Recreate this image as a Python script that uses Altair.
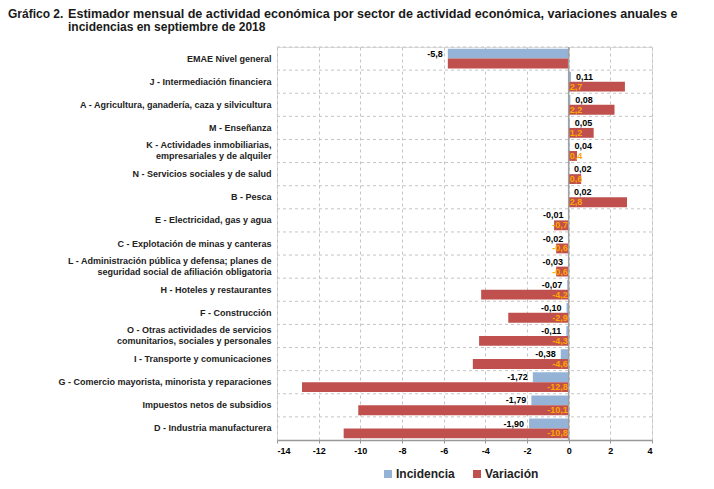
import altair as alt
import pandas as pd

cats = [
    "EMAE Nivel general",
    "J - Intermediación financiera",
    "A -  Agricultura, ganadería, caza y silvicultura",
    "M - Enseñanza",
    "K - Actividades inmobiliarias,|empresariales y de alquiler",
    "N - Servicios sociales y de salud",
    "B - Pesca",
    "E - Electricidad, gas y agua",
    "C - Explotación de minas y canteras",
    "L - Administración pública y defensa; planes de|seguridad social de afiliación obligatoria",
    "H - Hoteles y restaurantes",
    "F - Construcción",
    "O - Otras actividades de servicios|comunitarios, sociales y personales",
    "I - Transporte y comunicaciones",
    "G - Comercio mayorista, minorista y reparaciones",
    "Impuestos netos de subsidios",
    "D - Industria manufacturera",
]
incidencia = [-5.8, 0.11, 0.08, 0.05, 0.04, 0.02, 0.02, -0.01, -0.02, -0.03,
              -0.07, -0.10, -0.11, -0.38, -1.72, -1.79, -1.90]
variacion = [-5.8, 2.7, 2.2, 1.2, 0.4, 0.6, 2.8, -0.7, -0.6, -0.6,
             -4.2, -2.9, -4.3, -4.6, -12.8, -10.1, -10.8]
series = ["Incidencia", "Variación"]
x_ticks = list(range(-14, 5, 2))
title_head = ["Gráfico 2."]
title_line1 = ["Estimador mensual de actividad económica por sector de actividad económica, variaciones anuales e"]
title_line2 = ["incidencias en septiembre de 2018"]

rows = []
for i, c in enumerate(cats):
    inc = incidencia[i]
    inc_lab = (f"{inc:.1f}" if i == 0 else f"{inc:.2f}").replace(".", ",")
    rows.append({"cat": c, "serie": "Incidencia", "value": inc, "label": inc_lab})
    var = variacion[i]
    var_lab = "" if i == 0 else f"{var:.1f}".replace(".", ",")
    rows.append({"cat": c, "serie": "Variación", "value": var, "label": var_lab})
df = pd.DataFrame(rows)

FONT = "Liberation Sans"
blue = "#95B3D7"
red = "#C0504D"
orange = "#FFA500"
W, H = 375, 393

Y = alt.Y("cat:N", sort=cats, title=None,
          scale=alt.Scale(paddingInner=0, paddingOuter=0),
          axis=alt.Axis(labelExpr="split(datum.label, '|')", ticks=False, domain=False,
                        grid=False,
                        labelOffset={"condition": {"test": "indexof(datum.label, '|') >= 0",
                                                   "value": -6}, "value": 0},
                        labelFontWeight="bold", labelFontSize=9,
                        labelColor="#222", labelPadding=6, labelLimit=500,
                        labelLineHeight=11, labelFont=FONT, labelBaseline="middle"))
YO = alt.YOffset("serie:N", sort=series,
                 scale=alt.Scale(paddingOuter=0.17, paddingInner=0))
X = alt.X("value:Q", title=None,
          scale=alt.Scale(domain=[-14, 4], nice=False, zero=False),
          axis=alt.Axis(values=x_ticks, labelExpr="datum.value + ''", grid=True,
                        gridDash=[3, 3], gridColor="#c4c4c4", gridWidth=1,
                        labelFontWeight="bold", labelFontSize=9, labelColor="#000",
                        labelFont=FONT, tickColor="#999", domainColor="#999",
                        domainWidth=1.5, tickSize=3, labelPadding=3))

base = alt.Chart(df)

hgrid = alt.Chart(pd.DataFrame({"cat": cats})).mark_rule(
    strokeDash=[3, 3], color="#c4c4c4", strokeWidth=1
).encode(
    y=alt.Y("cat:N", sort=cats, bandPosition=0),
    x=alt.value(0), x2=alt.value(W),
)

bars = base.mark_bar().encode(
    x=X, y=Y, yOffset=YO,
    color=alt.Color("serie:N", sort=series,
                    scale=alt.Scale(domain=series, range=[blue, red]),
                    legend=alt.Legend(title=None, orient="none", legendX=105, legendY=421,
                                      direction="horizontal", symbolType="square",
                                      symbolSize=64, symbolStrokeWidth=0,
                                      labelFontSize=12, labelFontWeight="bold",
                                      labelColor="#222", labelFont=FONT,
                                      columnPadding=16, labelOffset=2)),
)

zero = alt.Chart(pd.DataFrame({"z": [0]})).mark_rule(
    color="#a0a0a0", strokeWidth=1.5
).encode(x=alt.datum(0))

txt_style = dict(font=FONT, fontSize=9, fontWeight="bold", baseline="middle")
Yt = alt.Y("cat:N", sort=cats)

inc_pos = base.transform_filter(
    "datum.serie == 'Incidencia' && datum.value >= 0"
).mark_text(align="left", dx=5, color="#000", **txt_style).encode(
    x="value:Q", y=Yt, yOffset=YO, text="label:N")

inc_neg = base.transform_filter(
    "datum.serie == 'Incidencia' && datum.value < 0"
).mark_text(align="right", dx=-5, color="#000", **txt_style).encode(
    x="value:Q", y=Yt, yOffset=YO, text="label:N")

var_pos = base.transform_filter(
    "datum.serie == 'Variación' && datum.value >= 0"
).mark_text(align="left", dx=1, color=orange, **txt_style).encode(
    x=alt.datum(0), y=Yt, yOffset=YO, text="label:N")

var_neg = base.transform_filter(
    "datum.serie == 'Variación' && datum.value < 0"
).mark_text(align="right", dx=-1, color=orange, **txt_style).encode(
    x=alt.datum(0), y=Yt, yOffset=YO, text="label:N")

tstyle = dict(font=FONT, fontWeight="bold", color="#1a1a1a", align="left",
              baseline="alphabetic")
t_head = alt.Chart(pd.DataFrame({"t": title_head})).mark_text(fontSize=12, **tstyle).encode(
    text="t:N", x=alt.value(-269), y=alt.value(-29))
t_l1 = alt.Chart(pd.DataFrame({"t": title_line1})).mark_text(fontSize=12.6, **tstyle).encode(
    text="t:N", x=alt.value(-209), y=alt.value(-29))
t_l2 = alt.Chart(pd.DataFrame({"t": title_line2})).mark_text(fontSize=12, **tstyle).encode(
    text="t:N", x=alt.value(-209), y=alt.value(-16))

chart = alt.layer(hgrid, bars, zero, inc_pos, inc_neg, var_pos, var_neg,
                  t_head, t_l1, t_l2).properties(
    width=W, height=H, padding=0
).configure_view(stroke=None).configure(font=FONT)

chart.save("out.html", embed_options={"renderer": "svg", "actions": False})
